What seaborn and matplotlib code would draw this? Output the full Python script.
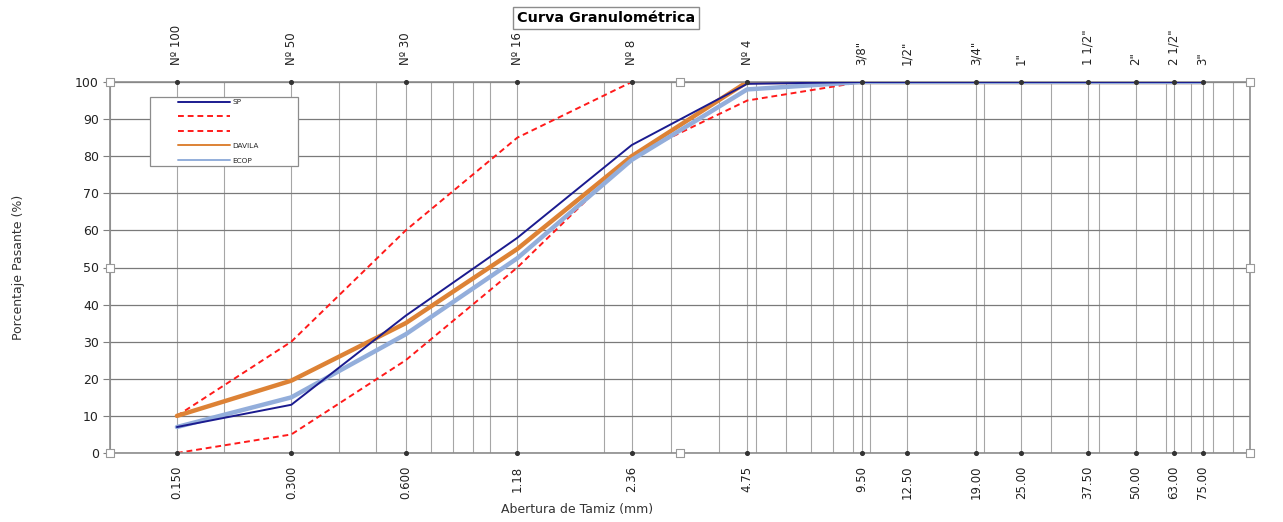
import matplotlib
matplotlib.use("Agg")
import matplotlib.pyplot as plt
from matplotlib.patches import Rectangle
import seaborn as sns
import numpy as np

# ---- data ----
sizes_mm = [0.150, 0.300, 0.600, 1.18, 2.36, 4.75, 9.50, 12.50, 19.00, 25.00, 37.50, 50.00, 63.00, 75.00]
bottom_labels = ["0.150", "0.300", "0.600", "1.18", "2.36", "4.75", "9.50", "12.50", "19.00", "25.00",
                 "37.50", "50.00", "63.00", "75.00"]
top_labels = ["Nº 100", "Nº 50", "Nº 30", "Nº 16", "Nº 8", "Nº 4", '3/8"', '1/2"', '3/4"', '1"',
              '1 1/2"', '2"', '2 1/2"', '3"']

sp = [7, 13, 37, 58, 83, 99.5, 100, 100, 100, 100, 100, 100, 100, 100]
davila = [10, 19.5, 35, 55, 80, 100, 100, 100, 100, 100, 100, 100, 100, 100]
ecop = [7, 15, 32, 52.5, 79, 98, 100, 100, 100, 100, 100, 100, 100, 100]
upper_x = [0.150, 0.300, 0.600, 1.18, 2.36]
upper_y = [10, 30, 60, 85, 100]
lower_x = [0.150, 0.300, 0.600, 1.18, 2.36, 4.75, 9.50]
lower_y = [0, 5, 25, 50, 80, 95, 100]
legend_labels = ["SP", "", "", "DAVILA", "ECOP"]

sns.set_theme(style="white")
plt.rcParams['font.family'] = ['DejaVu Sans']

fig = plt.figure(figsize=(12.83, 5.22), dpi=100)
ax = fig.add_axes([110/1283, 1-453/522, 1140/1283, 371/522])

handles = []
sns.lineplot(x=sizes_mm, y=sp, ax=ax, color="#1b1b8f", linewidth=1.4, label="_sp")
handles.append(ax.lines[-1])
sns.lineplot(x=upper_x, y=upper_y, ax=ax, color="#ff1a1a", linewidth=1.4, linestyle=(0, (3, 2)), label="_up")
handles.append(ax.lines[-1])
sns.lineplot(x=lower_x, y=lower_y, ax=ax, color="#ff1a1a", linewidth=1.4, linestyle=(0, (3, 2)), label="_lo")
handles.append(ax.lines[-1])
sns.lineplot(x=sizes_mm, y=davila, ax=ax, color="#dd8235", linewidth=3.2, label="_dav")
handles.append(ax.lines[-1])
sns.lineplot(x=sizes_mm, y=ecop, ax=ax, color="#93aedb", linewidth=3.2, label="_ecop")
handles.append(ax.lines[-1])
handles[0].set_zorder(5)

ax.set_xscale("log")
ax.set_xlim(0.1, 100)
ax.set_ylim(0, 100)

# grid
ax.set_yticks(np.arange(0, 101, 10))
ax.yaxis.grid(True, color="#7a7a7a", linewidth=0.9)
ax.xaxis.set_minor_locator(matplotlib.ticker.LogLocator(base=10, subs=np.arange(1, 10)))
ax.xaxis.grid(True, which="both", color="#a6a6a6", linewidth=0.8)
ax.set_axisbelow(True)

ax.set_xticks(sizes_mm)
ax.set_xticklabels(bottom_labels, rotation=90, fontsize=8.5, color="#222222")
ax.tick_params(axis="x", which="both", length=0, pad=9)
ax.tick_params(axis="y", length=5, width=0.8, color="#7f7f7f", labelsize=9, labelcolor="#222222", left=True, pad=3)
ax.xaxis.set_minor_formatter(matplotlib.ticker.NullFormatter())

for s in ax.spines.values():
    s.set_color("#8c8c8c")
    s.set_linewidth(1.2)

# top axis
top = ax.secondary_xaxis("top")
top.set_xticks(sizes_mm)
top.set_xticklabels(top_labels, rotation=90, fontsize=8.5, color="#222222")
top.tick_params(axis="x", which="both", length=0, pad=12)
top.xaxis.set_minor_locator(matplotlib.ticker.NullLocator())
top.spines["top"].set_visible(False)

# dots at sieve sizes on both axes
ax.scatter(sizes_mm, [0]*len(sizes_mm), s=7, color="#333333", clip_on=False, zorder=6)
ax.scatter(sizes_mm, [100]*len(sizes_mm), s=7, color="#333333", clip_on=False, zorder=6)

# selection handles
hx = [0, 0.5, 1, 0, 1, 0, 0.5, 1]
hy = [0, 0, 0, 0.5, 0.5, 1, 1, 1]
ax.scatter(hx, hy, s=38, marker="s", facecolor="white", edgecolor="#9a9a9a", linewidth=0.8,
           transform=ax.transAxes, clip_on=False, zorder=7)

ax.set_xlabel("Abertura de Tamiz (mm)", fontsize=9, color="#333333")
ax.xaxis.set_label_coords(0.41, -0.135)
ax.set_ylabel("Porcentaje Pasante (%)", fontsize=9, color="#333333", labelpad=36)

# legend frame + legend
ax.add_patch(Rectangle((40/1140, (453-166)/371), 148/1140, 69/371, transform=ax.transAxes,
                       facecolor="white", edgecolor="#8c8c8c", linewidth=0.9, zorder=8))
leg = ax.legend(handles, legend_labels, loc="upper left",
                bbox_to_anchor=(68/1140, (453-99)/371), fontsize=5.3, handlelength=7.0, frameon=False,
                borderpad=0, borderaxespad=0, labelspacing=1.15, handletextpad=0.4)
leg.set_zorder(9)
for lh in leg.get_lines():
    lh.set_linewidth(1.4)

fig.text(606/1283, 1-18/522, "Curva Granulométrica", ha="center", va="center", fontsize=10.4,
         fontweight="bold", color="black",
         bbox=dict(facecolor="white", edgecolor="#8c8c8c", boxstyle="square,pad=0.3", linewidth=1))

fig.savefig("out.png", dpi=100)
